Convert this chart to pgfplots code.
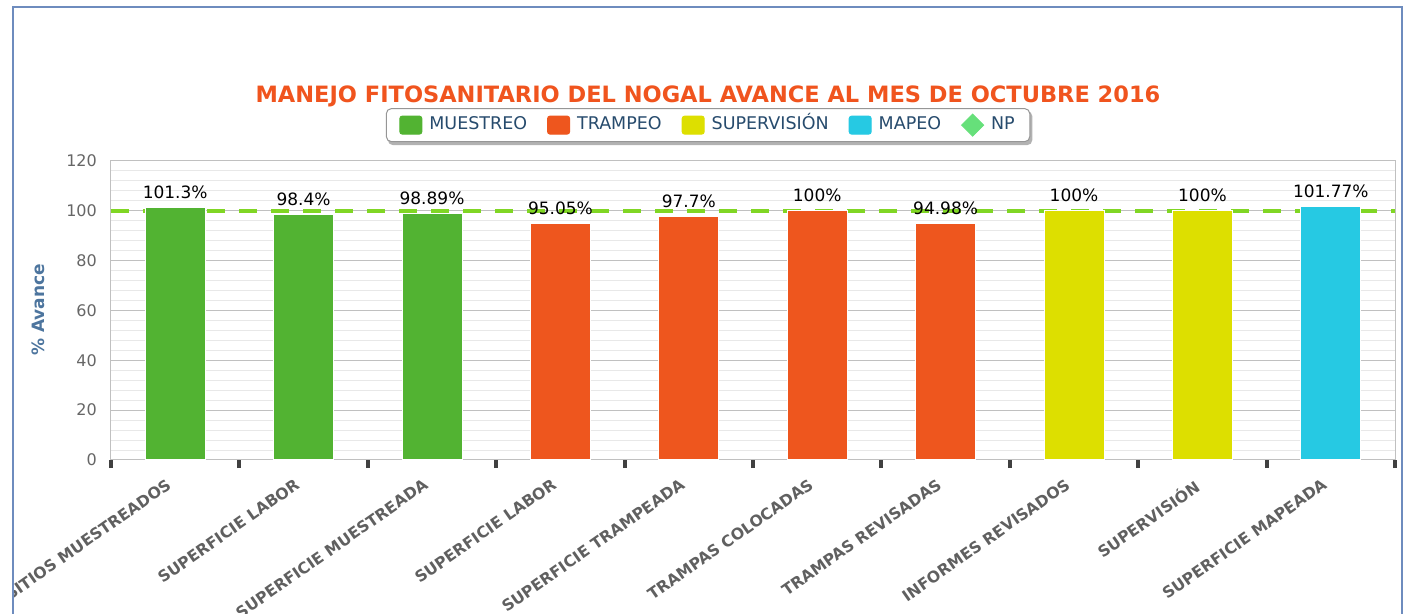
\documentclass[border=0pt]{standalone}
\usepackage{fontspec}
\setmainfont{DejaVu Sans}
\usepackage{pgfplots}
\pgfplotsset{compat=1.18}

\pgfdeclarelayer{background}
\pgfsetlayers{background,main}

\definecolor{cmuestreo}{RGB}{82,179,50}
\definecolor{ctrampeo}{RGB}{238,86,30}
\definecolor{csuperv}{RGB}{221,223,0}
\definecolor{cmapeo}{RGB}{38,201,227}
\definecolor{cnp}{RGB}{102,224,122}
\definecolor{cnpline}{RGB}{128,214,36}
\definecolor{ctitle}{RGB}{240,84,30}
\definecolor{clegtext}{RGB}{39,75,109}
\definecolor{cylab}{RGB}{77,117,158}
\definecolor{cticks}{RGB}{102,102,102}
\definecolor{cxlab}{RGB}{96,96,96}
\definecolor{cgridmaj}{RGB}{192,192,192}
\definecolor{cgridmin}{RGB}{232,232,232}
\definecolor{cframe}{RGB}{110,140,190}
\definecolor{clegdraw}{RGB}{150,150,150}

\pgfplotsset{
  barlab/.style={
    nodes near coords={\pgfmathprintnumber[assume math mode=true]{\pgfplotspointmeta}\%},
    every node near coord/.append style={font=\fontsize{17pt}{19pt}\selectfont,
      text=black, anchor=base, inner sep=0pt, yshift=9pt},
  },
}

\begin{document}
\begin{tikzpicture}[x=1pt,y=1pt]
\begin{axis}[
  at={(111pt,153pt)}, anchor=south west,
  scale only axis, width=1284pt, height=299pt,
  xmin=-0.5, xmax=9.5, ymin=0, ymax=120,
  ybar, bar width=60pt,
  ytick={0,20,...,120}, minor y tick num=4,
  xtick={0,...,9},
  xticklabels={SITIOS MUESTREADOS, SUPERFICIE LABOR, SUPERFICIE MUESTREADA,
    SUPERFICIE LABOR, SUPERFICIE TRAMPEADA, TRAMPAS COLOCADAS,
    TRAMPAS REVISADAS, INFORMES REVISADOS, SUPERVISIÓN, SUPERFICIE MAPEADA},
  minor xtick={-0.5,0.5,...,9.5},
  xtick pos=left, ytick pos=left,
  major tick length=0pt, minor tick length=8pt,
  minor x tick style={draw=black!75, line width=4pt},
  minor y tick style={draw=none},
  ymajorgrids, yminorgrids,
  major grid style={draw=cgridmaj, line width=1pt},
  minor grid style={draw=cgridmin, line width=1pt},
  axis line style={draw=cgridmaj, line width=1pt},
  /pgf/number format/assume math mode=true,
  yticklabel style={font=\fontsize{16pt}{18pt}\selectfont, text=cticks,
    anchor=east, inner sep=0pt, xshift=-14pt},
  xticklabel style={font=\bfseries\fontsize{15.7pt}{18pt}\selectfont, text=cxlab,
    rotate=35, anchor=north east, inner sep=0pt, yshift=-9pt, xshift=-18pt},
  legend style={name=leg, at={(0.465,1.12)}, anchor=center, legend columns=-1,
    draw=clegdraw, line width=1pt, rounded corners=5pt, fill=white,
    font=\fontsize{17.5pt}{20pt}\selectfont, text=clegtext,
    inner xsep=13pt, inner ysep=5pt,
    nodes={text height=13pt, text depth=4pt},
    /tikz/every odd column/.append style={column sep=5pt},
    /tikz/every even column/.append style={column sep=18pt}},
]
% NP reference line
\addplot[sharp plot, forget plot, draw=cnpline, line width=3.5pt,
  dash pattern=on 18pt off 14pt] coordinates {(-0.5,100) (9.5,100)};

\addplot[forget plot, bar shift=0pt, fill=cmuestreo, draw=white, line width=1pt, barlab]
  coordinates {(0,101.3) (1,98.4) (2,98.89)};
\addplot[forget plot, bar shift=0pt, fill=ctrampeo, draw=white, line width=1pt, barlab]
  coordinates {(3,95.05) (4,97.7) (5,100) (6,94.98)};
\addplot[forget plot, bar shift=0pt, fill=csuperv, draw=white, line width=1pt, barlab]
  coordinates {(7,100) (8,100)};
\addplot[forget plot, bar shift=0pt, fill=cmapeo, draw=white, line width=1pt, barlab]
  coordinates {(9,101.77)};

\addlegendimage{legend image code/.code={\fill[cmuestreo,rounded corners=2.5pt] (0pt,-9pt) rectangle (22pt,9pt);}}
\addlegendentry{MUESTREO}
\addlegendimage{legend image code/.code={\fill[ctrampeo,rounded corners=2.5pt] (0pt,-9pt) rectangle (22pt,9pt);}}
\addlegendentry{TRAMPEO}
\addlegendimage{legend image code/.code={\fill[csuperv,rounded corners=2.5pt] (0pt,-9pt) rectangle (22pt,9pt);}}
\addlegendentry{SUPERVISIÓN}
\addlegendimage{legend image code/.code={\fill[cmapeo,rounded corners=2.5pt] (0pt,-9pt) rectangle (22pt,9pt);}}
\addlegendentry{MAPEO}
\addlegendimage{legend image code/.code={\fill[cnp, sharp corners] (11pt,-11pt) -- (22pt,0pt) -- (11pt,11pt) -- (0pt,0pt) -- cycle;}}
\addlegendentry{NP}
\end{axis}

\begin{pgfonlayer}{background}
\fill[black, opacity=0.3, rounded corners=5pt]
  ([xshift=2pt,yshift=-3pt]leg.south west) rectangle ([xshift=2pt,yshift=-3pt]leg.north east);
\end{pgfonlayer}

\node[anchor=base, text=ctitle, font=\bfseries\fontsize{22.5pt}{26pt}\selectfont]
  at (708,510) {MANEJO FITOSANITARIO DEL NOGAL AVANCE AL MES DE OCTUBRE 2016};
\node[rotate=90, text=cylab, font=\bfseries\fontsize{17pt}{20pt}\selectfont]
  at (38,303) {\% Avance};

\fill[white] (0,-30) rectangle (12,613);
\draw[cframe, line width=2pt] (13,-30) -- (13,606) -- (1402,606) -- (1402,-30);

\pgfresetboundingbox
\path[use as bounding box] (0,0) rectangle (1408,613);
\end{tikzpicture}
\end{document}
